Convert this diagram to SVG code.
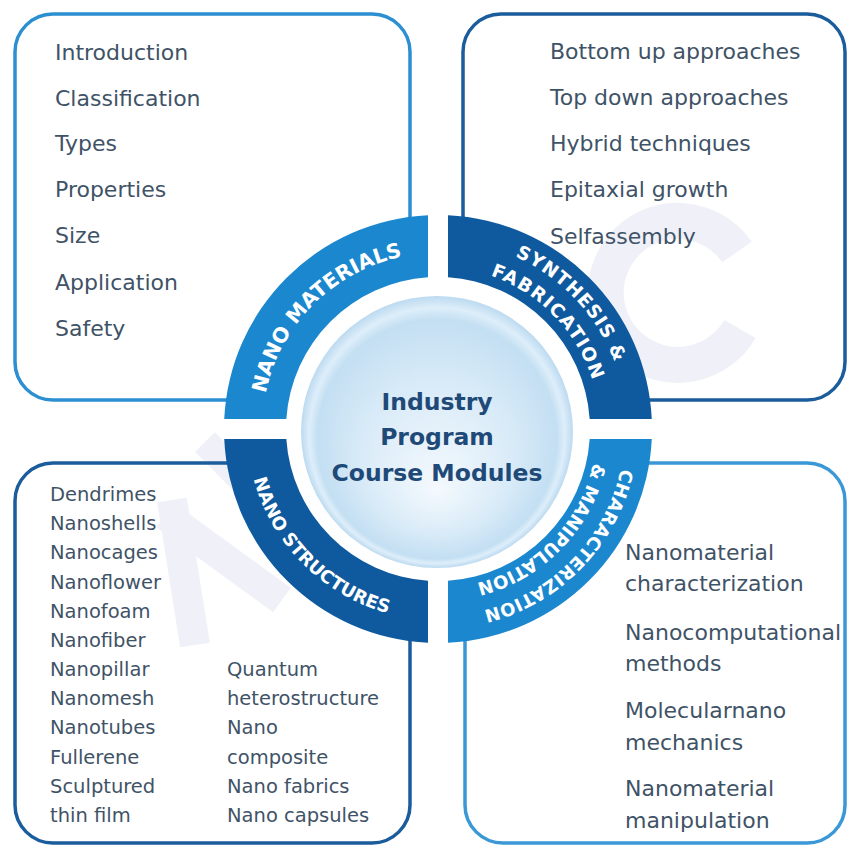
<svg xmlns="http://www.w3.org/2000/svg" width="848" height="848" viewBox="0 0 848 848">
<defs>
<style>
.box{fill:none;stroke-width:3.5}
.lt{stroke:#2b8fd1}
.dk{stroke:#1b5c9c}
.item{font-family:"DejaVu Sans","Verdana",sans-serif;fill:#3f5367}
.s22{font-size:22px}
.s19{font-size:19.5px}
.ring{font-family:"DejaVu Sans","Verdana",sans-serif;font-weight:bold;fill:#ffffff}
.mid{fill:#1a87cf}
.dark{fill:#0f5a9e}
.wm{fill:none;stroke:#f0f0f8;stroke-linecap:butt}
.ctr{font-family:"DejaVu Sans","Verdana",sans-serif;font-weight:bold;font-size:23.5px;fill:#1f4a78;text-anchor:middle}
</style>
<radialGradient id="disc" cx="50%" cy="50%" r="50%" fx="50%" fy="72%">
<stop offset="0" stop-color="#f4f9fd"/>
<stop offset="0.55" stop-color="#d9ebf8"/>
<stop offset="0.88" stop-color="#c3dff2"/>
<stop offset="0.94" stop-color="#deeefa"/>
<stop offset="1" stop-color="#bcdaf0"/>
</radialGradient>
<path id="pNM" d="M 262 429 A 176 176 0 0 1 438 253"/>
<path id="pSY" d="M 438 240 A 189 189 0 0 1 627 429"/>
<path id="pFA" d="M 438 267 A 162 162 0 0 1 600 429"/>
<path id="pCH" d="M 625 429 A 187 187 0 0 1 438 616"/>
<path id="pMA" d="M 597 429 A 159 159 0 0 1 438 588"/>
<path id="pNS" d="M 247 429 A 191 191 0 0 0 438 620"/>
</defs>
<rect width="848" height="848" fill="#ffffff"/>

<g id="watermark">
<path class="wm" stroke-width="36" d="M 737 252 A 72 72 0 1 0 740 329"/>
<path class="wm" stroke-width="30" d="M 172 500 L 195 645"/>
<path class="wm" stroke-width="30" d="M 165 515 L 282 600"/>
<path class="wm" stroke-width="28" d="M 205 442 L 262 500"/>
</g>

<g id="boxes">
<rect id="box-nano-materials" class="box lt" x="15" y="14" width="395" height="386" rx="38"/>
<rect id="box-synthesis" class="box dk" x="463" y="14" width="382" height="386" rx="38"/>
<rect id="box-nano-structures" class="box dk" x="15" y="463" width="395" height="380" rx="38"/>
<rect id="box-characterization" class="box lt" x="465" y="463" width="380" height="380" rx="38" style="stroke:#3a98d6"/>
</g>

<g id="list-nano-materials" class="item s22">
<text x="55" y="60">Introduction</text>
<text x="55" y="106">Classification</text>
<text x="55" y="151">Types</text>
<text x="55" y="197">Properties</text>
<text x="55" y="243">Size</text>
<text x="55" y="290">Application</text>
<text x="55" y="336">Safety</text>
</g>

<g id="list-synthesis" class="item s22">
<text x="550" y="59">Bottom up approaches</text>
<text x="550" y="105">Top down approaches</text>
<text x="550" y="151">Hybrid techniques</text>
<text x="550" y="197">Epitaxial growth</text>
<text x="550" y="244">Selfassembly</text>
</g>

<g id="list-nano-structures" class="item s19">
<text x="50" y="501">Dendrimes</text>
<text x="50" y="530">Nanoshells</text>
<text x="50" y="559">Nanocages</text>
<text x="50" y="589">Nanoflower</text>
<text x="50" y="618">Nanofoam</text>
<text x="50" y="647">Nanofiber</text>
<text x="50" y="676">Nanopillar</text>
<text x="50" y="705">Nanomesh</text>
<text x="50" y="734">Nanotubes</text>
<text x="50" y="764">Fullerene</text>
<text x="50" y="793">Sculptured</text>
<text x="50" y="822">thin film</text>
<text x="227" y="676">Quantum</text>
<text x="227" y="705">heterostructure</text>
<text x="227" y="734">Nano</text>
<text x="227" y="764">composite</text>
<text x="227" y="793">Nano fabrics</text>
<text x="227" y="822">Nano capsules</text>
</g>

<g id="list-characterization" class="item s22">
<text x="625" y="560">Nanomaterial</text>
<text x="625" y="591">characterization</text>
<text x="625" y="640">Nanocomputational</text>
<text x="625" y="671">methods</text>
<text x="625" y="718">Molecularnano</text>
<text x="625" y="750">mechanics</text>
<text x="625" y="796">Nanomaterial</text>
<text x="625" y="828">manipulation</text>
</g>

<circle cx="438" cy="429" r="153" fill="#ffffff"/>

<g id="seg-nano-materials">
<path class="mid" d="M 224.23 419 A 214 214 0 0 1 428 215.23 L 428 277.33 A 152 152 0 0 0 286.33 419 Z"/>
<text class="ring" font-size="20.5"><textPath href="#pNM" startOffset="50%" text-anchor="middle">NANO MATERIALS</textPath></text>
</g>

<g id="seg-synthesis">
<path class="dark" d="M 448 215.23 A 214 214 0 0 1 651.77 419 L 589.67 419 A 152 152 0 0 0 448 277.33 Z"/>
<text class="ring" font-size="18.5" letter-spacing="1"><textPath href="#pSY" startOffset="52%" text-anchor="middle">SYNTHESIS &amp;</textPath></text>
<text class="ring" font-size="18.5" letter-spacing="1.4"><textPath href="#pFA" startOffset="51%" text-anchor="middle">FABRICATION</textPath></text>
</g>

<g id="seg-characterization">
<path class="mid" d="M 651.77 439 A 214 214 0 0 1 448 642.77 L 448 580.67 A 152 152 0 0 0 589.67 439 Z"/>
<text class="ring" font-size="18" letter-spacing="0.3"><textPath href="#pCH" startOffset="49%" text-anchor="middle">CHARACTERIZATION</textPath></text>
<text class="ring" font-size="18"><textPath href="#pMA" startOffset="49%" text-anchor="middle">&amp; MANIPULATION</textPath></text>
</g>

<g id="seg-nano-structures">
<path class="dark" d="M 428 642.77 A 214 214 0 0 1 224.23 439 L 286.33 439 A 152 152 0 0 0 428 580.67 Z"/>
<text class="ring" font-size="18"><textPath href="#pNS" startOffset="50%" text-anchor="middle">NANO STRUCTURES</textPath></text>
</g>

<g id="center">
<circle cx="437" cy="432" r="136" fill="url(#disc)"/>
<text class="ctr" x="437" y="410">Industry</text>
<text class="ctr" x="437" y="445">Program</text>
<text class="ctr" x="437" y="481">Course Modules</text>
</g>
</svg>
